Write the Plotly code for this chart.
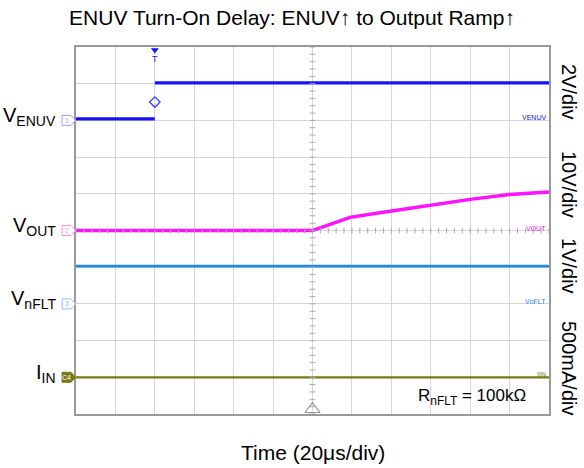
import plotly.graph_objects as go

# ---------------- data ----------------
# Time axis in microseconds (20 us/div, 12 divisions); t = 0 at ENUV rising edge
time_range = [-40, 200]
time_per_div = 20

# Channel settings (scope vertical scale and ground-marker position in divisions)
channel_names = ["VENUV", "VOUT", "VnFLT", "IIN"]
channel_labels = ["V<sub>ENUV</sub>", "V<sub>OUT</sub>", "V<sub>nFLT</sub>", "I<sub>IN</sub>"]
channel_tags = ["1", "2", "3", "C4"]
scales = [2, 10, 1, 0.5]              # units / div
ground_div = [8, 5, 3, 1]             # ground marker position (div from bottom)
scale_labels = ["2V/div", "10V/div", "1V/div", "500mA/div"]
colors = ["#1414f6", "#ff10ff", "#2288ee", "#7a7a18"]
tag_edge = ["#9a9cff", "#ff8cff", "#8cc2ff", "#7a7a18"]

# ENUV (V)
t_enuv = [-40, 0, None, 0, 200]
v_enuv = [0.08, 0.08, None, 2.05, 2.05]
# VOUT (V)
t_vout = [-40, 80, 90, 99, 115, 134, 160, 180, 200]
v_vout = [0.0, 0.0, 1.9, 3.6, 4.9, 6.4, 8.5, 9.8, 10.5]
# VnFLT (V)
t_nflt = [-40, 200]
v_nflt = [1.03, 1.03]
# IIN (A)
t_iin = [-40, 200]
i_iin = [0.0, 0.0]

trigger_time = 0
trigger_level = 1.0   # V on ENUV
center_time = 80

FONT = "Liberation Sans, Arial, sans-serif"
N_DIV_Y = 10

fig = go.Figure()

series = [(t_enuv, v_enuv, 3.2), (t_vout, v_vout, 3.4), (t_nflt, v_nflt, 2.6), (t_iin, i_iin, 2.2)]
yrefs = ["y", "y2", "y3", "y4"]
for k, (t, v, w) in enumerate(series):
    fig.add_trace(go.Scatter(x=t, y=v, mode="lines", yaxis=yrefs[k],
                             line=dict(color=colors[k], width=w),
                             connectgaps=False, hoverinfo="skip", showlegend=False))

# center graticule minor ticks (on the division axis y5)
n_minor_x = int((time_range[1] - time_range[0]) / time_per_div * 5)
fig.add_trace(go.Scatter(
    x=[time_range[0] + i * time_per_div / 5 for i in range(n_minor_x + 1)],
    y=[N_DIV_Y / 2] * (n_minor_x + 1), yaxis="y5", mode="markers",
    marker=dict(symbol="line-ns", size=4, line=dict(color="#a8a8a8", width=1)),
    hoverinfo="skip", showlegend=False))
fig.add_trace(go.Scatter(
    x=[center_time] * (N_DIV_Y * 5 + 1),
    y=[i * 0.2 for i in range(N_DIV_Y * 5 + 1)], yaxis="y5", mode="markers",
    marker=dict(symbol="line-ew", size=4, line=dict(color="#a8a8a8", width=1)),
    hoverinfo="skip", showlegend=False))

# trigger decorations
fig.add_trace(go.Scatter(x=[trigger_time], y=[trigger_level], yaxis="y", mode="markers",
                         marker=dict(symbol="diamond-open", size=8, color="#3a3aff",
                                     line=dict(width=1.3)),
                         hoverinfo="skip", showlegend=False))
fig.add_trace(go.Scatter(x=[trigger_time], y=[9.92], yaxis="y5", mode="markers",
                         marker=dict(symbol="triangle-down", size=7, color="#1414f6"),
                         cliponaxis=False, hoverinfo="skip", showlegend=False))
fig.add_trace(go.Scatter(x=[time_range[1] + 1.2], y=[trigger_level], yaxis="y", mode="markers",
                         marker=dict(symbol="triangle-left", size=9, color="#1414f6"),
                         cliponaxis=False, hoverinfo="skip", showlegend=False))
fig.add_trace(go.Scatter(x=[center_time], y=[0.13], yaxis="y5", mode="markers",
                         marker=dict(symbol="triangle-up-open", size=13, color="#999999",
                                     line=dict(width=1.2)),
                         cliponaxis=False, hoverinfo="skip", showlegend=False))

axis_common = dict(showticklabels=False, ticks="", zeroline=False)
fig.update_layout(
    width=584, height=468,
    margin=dict(l=76, r=35, t=47, b=54),
    paper_bgcolor="white", plot_bgcolor="white",
    font=dict(family=FONT, color="black"),
    title=dict(text="ENUV Turn-On Delay: ENUV↑ to Output Ramp↑", x=0.5, xanchor="center",
               y=1 - 18 / 468, yanchor="middle", font=dict(size=21, family=FONT)),
    xaxis=dict(range=time_range, dtick=time_per_div, tick0=time_range[0], showgrid=True,
               gridcolor="#d6d6d6", gridwidth=1, showline=True, mirror=True,
               linecolor="#999999", linewidth=1.5, **axis_common),
    yaxis=dict(range=[-ground_div[0] * scales[0], (N_DIV_Y - ground_div[0]) * scales[0]],
               dtick=scales[0], tick0=0, showgrid=True, gridcolor="#d6d6d6", gridwidth=1,
               showline=True, mirror=True, linecolor="#999999", linewidth=1.5, **axis_common),
    yaxis2=dict(range=[-ground_div[1] * scales[1], (N_DIV_Y - ground_div[1]) * scales[1]],
                overlaying="y", visible=False),
    yaxis3=dict(range=[-ground_div[2] * scales[2], (N_DIV_Y - ground_div[2]) * scales[2]],
                overlaying="y", visible=False),
    yaxis4=dict(range=[-ground_div[3] * scales[3], (N_DIV_Y - ground_div[3]) * scales[3]],
                overlaying="y", visible=False),
    yaxis5=dict(range=[0, N_DIV_Y], overlaying="y", visible=False),
)

plot_w = 584 - 76 - 35
tag_x0 = -14 / plot_w
tag_x1 = -5 / plot_w
tag_xt = -0.5 / plot_w
half_h = 5 / (468 - 47 - 54) * N_DIV_Y
annotations = []
shapes = []
for k in range(4):
    g = ground_div[k]
    fill = colors[k] if channel_tags[k] == "C4" else "white"
    path = (f"M {tag_x0},{g - half_h} L {tag_x1},{g - half_h} L {tag_xt},{g} "
            f"L {tag_x1},{g + half_h} L {tag_x0},{g + half_h} Z")
    shapes.append(dict(type="path", path=path, xref="paper", yref="y5",
                       line=dict(color=tag_edge[k], width=1), fillcolor=fill, layer="above"))
    annotations.append(dict(text=channel_tags[k], xref="paper", yref="y5",
                            x=(tag_x0 + tag_x1) / 2, y=g, showarrow=False,
                            xanchor="center", yanchor="middle",
                            font=dict(size=7, color="white" if channel_tags[k] == "C4" else tag_edge[k],
                                      family=FONT)))
    # left channel names
    annotations.append(dict(text=channel_labels[k], xref="paper", yref="y5",
                            x=-18 / plot_w, y=g, xanchor="right", yanchor="middle",
                            yshift=4, showarrow=False, font=dict(size=20, family=FONT)))
    # small right names
    annotations.append(dict(text=channel_names[k], xref="paper", yref="y5",
                            x=1, y=g, xanchor="right", yanchor="bottom", xshift=-1, yshift=-3,
                            showarrow=False, font=dict(size=7, color=colors[k], family=FONT)))

# vertical scale labels on the right
scale_y_px = [92, 184, 266, 368]
for k in range(4):
    annotations.append(dict(text=scale_labels[k], xref="paper", yref="paper",
                            x=(569 - 76) / plot_w, y=(414 - scale_y_px[k]) / 367,
                            xanchor="center", yanchor="middle", textangle=90,
                            showarrow=False, font=dict(size=20, family=FONT)))

annotations.append(dict(text="T", xref="x", yref="y5", x=trigger_time, y=9.68,
                        showarrow=False, font=dict(size=9, color="#1414f6", family=FONT)))
annotations.append(dict(text="R<sub>nFLT</sub> = 100kΩ", xref="paper", yref="paper",
                        x=(472 - 76) / plot_w, y=(414 - 397) / 367, xanchor="center",
                        yanchor="middle", showarrow=False, font=dict(size=17, family=FONT)))
annotations.append(dict(text="Time (20μs/div)", xref="paper", yref="paper",
                        x=0.5, y=(414 - 452) / 367, xanchor="center", yanchor="middle",
                        showarrow=False, font=dict(size=21, family=FONT)))

fig.update_layout(annotations=annotations, shapes=shapes)
fig.write_html("out.html", config={"displayModeBar": False},
               post_script="document.body.style.margin='0px';")
